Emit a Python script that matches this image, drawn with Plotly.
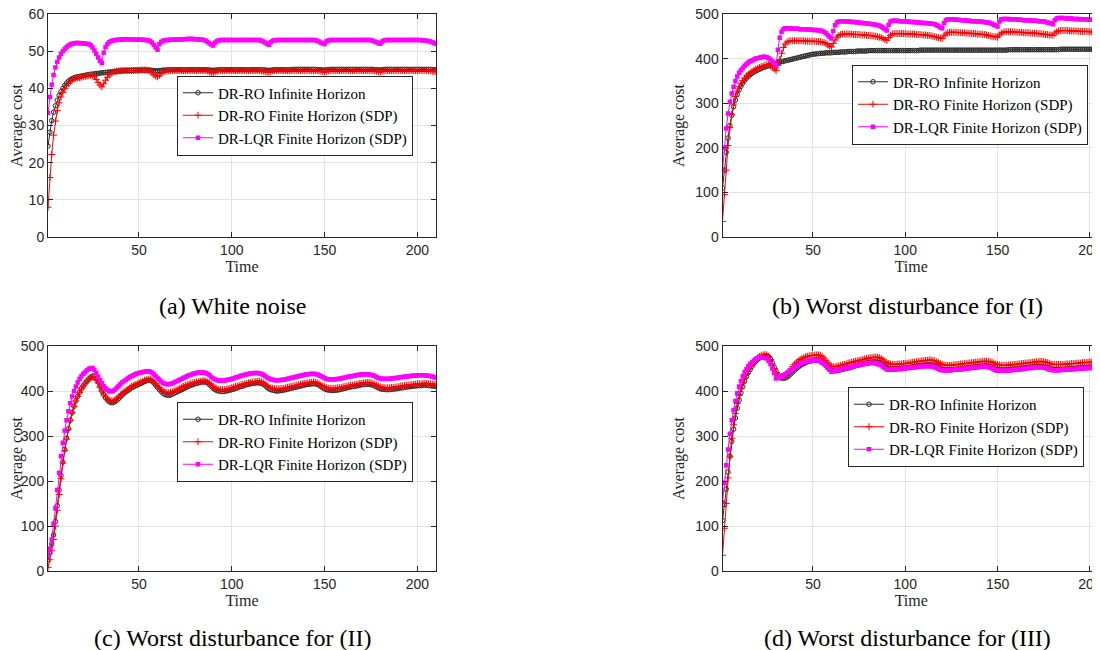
import plotly.graph_objects as go

time = list(range(1, 211))

# ---------------- (a) White noise ----------------
a_inf = [24.5, 28.2, 31.3, 33.6, 35.3, 36.8, 38.1, 39.1, 40.0, 40.8,
         41.4, 41.9, 42.3, 42.6, 42.8, 43.0, 43.1, 43.2, 43.3, 43.4,
         43.5, 43.6, 43.7, 43.8, 43.8, 43.9, 44.0, 44.0, 44.1, 44.2,
         44.2, 44.3, 44.3, 44.4, 44.4, 44.5, 44.5, 44.6, 44.6, 44.7,
         44.7, 44.7, 44.8, 44.8, 44.8, 44.8, 44.9, 44.9, 44.9, 44.9,
         44.9, 44.9, 44.9, 44.9, 44.9, 44.9, 44.8, 44.8, 44.7, 44.7,
         44.8, 44.8, 44.9, 44.9, 44.9, 45.0, 45.0, 45.0, 45.0, 45.0,
         45.0, 45.0, 45.0, 45.0, 45.0, 45.0, 45.0, 45.0, 45.0, 45.0,
         45.0, 45.0, 45.0, 45.0, 45.0, 45.0, 45.0, 44.9, 44.9, 44.8,
         44.9, 44.9, 45.0, 45.0, 45.0, 45.0, 45.0, 45.0, 45.0, 45.0,
         45.0, 45.0, 45.0, 45.0, 45.0, 45.0, 45.0, 45.0, 45.0, 45.0,
         45.0, 45.0, 45.0, 45.0, 45.0, 45.0, 45.0, 44.9, 44.9, 44.8,
         44.9, 44.9, 45.0, 45.0, 45.0, 45.0, 45.0, 45.0, 45.0, 45.0,
         45.0, 45.0, 45.1, 45.1, 45.1, 45.1, 45.1, 45.1, 45.1, 45.1,
         45.1, 45.1, 45.1, 45.1, 45.1, 45.0, 45.0, 45.0, 44.9, 44.9,
         45.0, 45.0, 45.1, 45.1, 45.1, 45.1, 45.1, 45.1, 45.1, 45.1,
         45.1, 45.1, 45.1, 45.1, 45.1, 45.1, 45.1, 45.1, 45.1, 45.1,
         45.1, 45.1, 45.1, 45.1, 45.1, 45.1, 45.0, 45.0, 45.0, 44.9,
         45.0, 45.1, 45.1, 45.1, 45.1, 45.1, 45.1, 45.1, 45.1, 45.1,
         45.1, 45.1, 45.1, 45.1, 45.1, 45.1, 45.1, 45.1, 45.1, 45.1,
         45.1, 45.1, 45.1, 45.1, 45.1, 45.1, 45.1, 45.0, 45.0, 45.0]
a_fin = [8.0, 16.0, 22.2, 27.4, 31.2, 34.0, 36.1, 37.7, 38.9, 39.9,
         40.7, 41.3, 41.8, 42.2, 42.5, 42.7, 42.8, 42.9, 43.0, 43.1,
         43.2, 43.3, 43.4, 43.5, 43.5, 43.1, 42.4, 41.6, 40.9, 40.4,
         41.2, 42.2, 43.0, 43.6, 44.0, 44.3, 44.5, 44.6, 44.7, 44.7,
         44.8, 44.8, 44.8, 44.8, 44.8, 44.8, 44.8, 44.8, 44.8, 44.8,
         44.9, 44.9, 44.9, 44.9, 44.8, 44.6, 44.2, 43.7, 43.3, 43.1,
         43.5, 44.0, 44.4, 44.6, 44.7, 44.7, 44.8, 44.8, 44.8, 44.8,
         44.8, 44.8, 44.8, 44.8, 44.8, 44.8, 44.8, 44.8, 44.8, 44.8,
         44.8, 44.8, 44.8, 44.8, 44.8, 44.8, 44.7, 44.5, 44.3, 44.1,
         44.4, 44.6, 44.7, 44.8, 44.8, 44.8, 44.8, 44.8, 44.8, 44.8,
         44.8, 44.8, 44.8, 44.8, 44.8, 44.8, 44.8, 44.8, 44.8, 44.8,
         44.8, 44.8, 44.8, 44.8, 44.8, 44.7, 44.6, 44.5, 44.4, 44.3,
         44.5, 44.7, 44.8, 44.8, 44.8, 44.8, 44.8, 44.8, 44.8, 44.8,
         44.8, 44.8, 44.8, 44.8, 44.8, 44.8, 44.8, 44.8, 44.8, 44.8,
         44.8, 44.8, 44.8, 44.8, 44.8, 44.8, 44.7, 44.6, 44.5, 44.4,
         44.6, 44.7, 44.8, 44.8, 44.8, 44.8, 44.8, 44.8, 44.8, 44.8,
         44.8, 44.8, 44.8, 44.8, 44.8, 44.8, 44.8, 44.8, 44.8, 44.8,
         44.8, 44.8, 44.8, 44.8, 44.8, 44.8, 44.7, 44.6, 44.5, 44.4,
         44.6, 44.7, 44.8, 44.8, 44.8, 44.8, 44.8, 44.8, 44.8, 44.8,
         44.8, 44.8, 44.8, 44.8, 44.8, 44.8, 44.8, 44.8, 44.8, 44.8,
         44.8, 44.8, 44.8, 44.8, 44.8, 44.8, 44.7, 44.6, 44.5, 44.5]
a_lqr = [33.4, 37.7, 41.0, 43.6, 45.6, 47.1, 48.3, 49.3, 50.0, 50.6,
         51.1, 51.5, 51.8, 52.0, 52.1, 52.2, 52.2, 52.2, 52.1, 52.1,
         52.0, 52.0, 51.9, 51.6, 51.0, 50.2, 49.3, 48.3, 47.4, 46.8,
         49.6, 51.1, 51.9, 52.4, 52.7, 52.9, 53.0, 53.0, 53.1, 53.1,
         53.1, 53.2, 53.2, 53.2, 53.2, 53.2, 53.1, 53.1, 53.1, 53.1,
         53.1, 53.1, 53.0, 53.0, 52.9, 52.7, 52.3, 51.7, 51.0, 50.4,
         51.9, 52.5, 52.8, 52.9, 53.0, 53.0, 53.1, 53.1, 53.1, 53.1,
         53.1, 53.2, 53.2, 53.2, 53.2, 53.3, 53.3, 53.3, 53.3, 53.2,
         53.2, 53.2, 53.1, 53.1, 53.0, 52.8, 52.5, 52.1, 51.8, 51.5,
         52.3, 52.7, 52.9, 53.0, 53.0, 53.0, 53.0, 53.0, 53.0, 53.0,
         53.0, 53.0, 53.0, 53.0, 53.0, 53.0, 53.0, 53.0, 53.0, 53.0,
         53.0, 53.0, 53.0, 53.0, 53.0, 52.8, 52.6, 52.3, 52.0, 51.7,
         52.4, 52.8, 52.9, 53.0, 53.0, 53.0, 53.0, 53.0, 53.0, 53.0,
         53.0, 53.0, 53.0, 53.0, 53.0, 53.0, 53.0, 53.0, 53.0, 53.0,
         53.0, 53.0, 53.0, 53.0, 53.0, 52.8, 52.6, 52.3, 52.1, 51.9,
         52.6, 52.9, 53.0, 53.0, 53.0, 53.0, 53.0, 53.0, 53.0, 53.0,
         53.0, 53.0, 53.0, 53.0, 53.0, 53.0, 53.0, 53.0, 53.0, 53.0,
         53.0, 53.0, 53.0, 53.0, 53.0, 52.8, 52.6, 52.4, 52.2, 52.0,
         52.6, 52.9, 53.0, 53.0, 53.0, 53.0, 53.0, 53.0, 53.0, 53.0,
         53.0, 53.0, 53.0, 53.0, 53.0, 53.0, 53.0, 53.0, 53.0, 53.0,
         53.0, 53.0, 52.9, 52.9, 52.8, 52.7, 52.6, 52.4, 52.2, 52.0]

# ---------------- (b) Worst disturbance for (I) ----------------
b_inf = [110, 150, 190, 222, 250, 273, 292, 307, 320, 330,
         338, 345, 351, 356, 360, 364, 367, 370, 372, 374,
         376, 378, 380, 381, 383, 384, 386, 387, 388, 390,
         391, 392, 393, 394, 395, 396, 397, 398, 399, 400,
         401, 402, 403, 404, 405, 406, 407, 408, 409, 410,
         410, 411, 411, 412, 412, 412, 413, 413, 413, 413,
         414, 414, 414, 414, 415, 415, 415, 415, 416, 416,
         416, 416, 416, 417, 417, 417, 417, 417, 417, 418,
         418, 418, 418, 418, 418, 418, 418, 418, 418, 418,
         418, 418, 418, 418, 418, 418, 418, 418, 418, 418,
         418, 418, 418, 418, 418, 418, 418, 419, 419, 419,
         419, 419, 419, 419, 419, 419, 419, 419, 419, 419,
         419, 419, 419, 419, 419, 419, 419, 419, 419, 419,
         419, 419, 419, 419, 419, 419, 419, 419, 419, 419,
         419, 419, 419, 419, 419, 419, 419, 419, 419, 419,
         419, 419, 419, 419, 419, 420, 420, 420, 420, 420,
         420, 420, 420, 420, 420, 420, 420, 420, 420, 420,
         420, 420, 420, 420, 420, 420, 420, 420, 420, 420,
         420, 420, 420, 421, 421, 421, 421, 421, 421, 421,
         421, 421, 421, 421, 421, 421, 421, 421, 421, 421,
         421, 421, 421, 421, 421, 421, 421, 421, 421, 421]
b_fin = [35, 95, 150, 205, 245, 275, 298, 315, 327, 337,
         345, 351, 356, 361, 365, 368, 371, 374, 376, 378,
         380, 382, 383, 385, 386, 386, 384, 381, 377, 373,
         385, 398, 412, 425, 433, 437, 439, 440, 440, 440,
         440, 440, 440, 440, 440, 439, 439, 439, 439, 439,
         439, 438, 438, 438, 437, 436, 434, 431, 428, 426,
         434, 442, 448, 452, 454, 455, 455, 455, 455, 455,
         455, 454, 454, 454, 454, 453, 453, 453, 452, 452,
         452, 451, 451, 450, 449, 448, 447, 445, 443, 441,
         447, 452, 455, 456, 456, 456, 456, 456, 456, 456,
         455, 455, 455, 455, 455, 454, 454, 454, 453, 453,
         453, 452, 452, 451, 450, 449, 448, 447, 446, 445,
         451, 455, 458, 459, 459, 459, 459, 459, 458, 458,
         458, 458, 457, 457, 457, 456, 456, 456, 455, 455,
         455, 454, 454, 453, 452, 451, 450, 449, 449, 448,
         453, 457, 459, 460, 460, 460, 460, 460, 460, 459,
         459, 459, 459, 458, 458, 458, 458, 457, 457, 457,
         457, 456, 456, 455, 455, 454, 454, 453, 453, 452,
         457, 460, 462, 463, 463, 463, 463, 463, 462, 462,
         462, 462, 462, 461, 461, 461, 461, 461, 461, 460,
         460, 460, 460, 460, 460, 460, 459, 459, 459, 459]
b_lqr = [150, 200, 243, 277, 303, 322, 337, 350, 360, 368,
         374, 379, 384, 388, 391, 394, 396, 398, 400, 401,
         402, 403, 404, 404, 403, 401, 398, 394, 389, 385,
         420, 447, 460, 466, 468, 468, 468, 468, 467, 467,
         467, 467, 466, 466, 466, 466, 465, 465, 465, 464,
         464, 464, 463, 463, 462, 460, 457, 453, 449, 445,
         462, 475, 481, 483, 484, 484, 484, 483, 483, 483,
         482, 482, 482, 481, 481, 480, 480, 479, 479, 478,
         478, 477, 477, 476, 475, 474, 472, 469, 466, 463,
         476, 483, 485, 485, 485, 485, 484, 484, 484, 483,
         483, 483, 482, 482, 482, 481, 481, 481, 480, 480,
         480, 479, 479, 478, 478, 477, 475, 473, 470, 468,
         480, 486, 488, 488, 488, 488, 487, 487, 487, 486,
         486, 486, 485, 485, 485, 484, 484, 484, 483, 483,
         483, 482, 482, 481, 481, 480, 478, 476, 474, 472,
         483, 488, 489, 489, 489, 489, 488, 488, 488, 488,
         487, 487, 487, 486, 486, 486, 486, 485, 485, 485,
         485, 484, 484, 484, 484, 482, 481, 480, 479, 477,
         486, 490, 491, 491, 491, 491, 490, 490, 490, 490,
         489, 489, 489, 489, 488, 488, 488, 488, 487, 487,
         487, 487, 487, 486, 486, 486, 486, 486, 486, 486]

# ---------------- (c) Worst disturbance for (II) ----------------
c_inf = [25, 40, 60, 80, 110, 145, 180, 212, 242, 270,
         295, 316, 335, 352, 366, 378, 388, 397, 405, 411,
         417, 422, 427, 431, 433, 433, 428, 420, 410, 400,
         392, 385, 380, 376, 374, 374, 376, 379, 383, 387,
         391, 395, 398, 401, 404, 407, 409, 411, 413, 415,
         417, 419, 421, 423, 424, 424, 422, 418, 413, 408,
         403, 399, 395, 392, 391, 390, 391, 393, 395, 397,
         399, 401, 403, 405, 407, 409, 411, 413, 414, 416,
         417, 418, 419, 420, 420, 420, 418, 414, 410, 406,
         403, 401, 400, 399, 399, 399, 400, 401, 402, 403,
         404, 406, 407, 409, 410, 411, 413, 414, 415, 416,
         417, 417, 418, 418, 418, 417, 415, 412, 408, 405,
         403, 402, 401, 400, 400, 401, 401, 402, 403, 404,
         405, 406, 407, 408, 409, 410, 411, 412, 413, 414,
         415, 415, 416, 416, 416, 415, 413, 410, 407, 405,
         403, 402, 402, 401, 401, 402, 402, 403, 404, 405,
         406, 407, 408, 409, 410, 410, 411, 412, 413, 414,
         414, 415, 415, 415, 414, 413, 411, 409, 407, 405,
         404, 404, 403, 403, 403, 404, 404, 405, 405, 406,
         407, 407, 408, 409, 409, 410, 410, 411, 411, 412,
         412, 412, 413, 413, 413, 412, 412, 411, 411, 410]
c_fin = [8, 25, 45, 70, 100, 135, 170, 205, 240, 268,
         293, 315, 335, 352, 366, 378, 388, 397, 405, 411,
         417, 422, 426, 429, 431, 430, 425, 418, 409, 400,
         393, 387, 382, 379, 378, 378, 380, 383, 387, 391,
         395, 398, 401, 404, 407, 410, 412, 414, 416, 418,
         420, 422, 424, 425, 426, 426, 424, 420, 416, 411,
         407, 403, 400, 398, 397, 396, 397, 398, 400, 402,
         404, 406, 408, 410, 412, 414, 415, 417, 418, 419,
         420, 421, 422, 422, 423, 422, 420, 417, 413, 410,
         407, 405, 404, 403, 403, 403, 404, 405, 406, 407,
         408, 410, 411, 412, 414, 415, 416, 417, 418, 419,
         420, 420, 421, 421, 421, 420, 418, 415, 412, 409,
         407, 406, 405, 405, 405, 405, 406, 406, 407, 408,
         409, 410, 411, 412, 413, 414, 415, 416, 417, 418,
         418, 419, 419, 420, 419, 418, 416, 413, 411, 409,
         407, 406, 406, 406, 406, 406, 407, 407, 408, 409,
         410, 411, 412, 413, 413, 414, 415, 416, 417, 417,
         418, 418, 419, 419, 418, 417, 415, 413, 411, 409,
         408, 408, 407, 407, 407, 408, 408, 409, 409, 410,
         411, 411, 412, 413, 413, 414, 414, 415, 415, 416,
         416, 416, 417, 417, 417, 416, 416, 415, 415, 414]
c_lqr = [33, 50, 70, 105, 140, 180, 218, 255, 285, 312,
         335, 355, 373, 388, 400, 410, 419, 427, 433, 438,
         442, 446, 449, 451, 451, 447, 440, 432, 424, 417,
         411, 406, 402, 400, 399, 400, 403, 407, 411, 415,
         419, 422, 425, 428, 431, 433, 435, 437, 439, 440,
         441, 442, 443, 444, 444, 443, 441, 437, 433, 429,
         425, 421, 418, 416, 415, 415, 416, 417, 419, 421,
         423, 425, 427, 429, 431, 433, 435, 436, 438, 439,
         440, 441, 441, 441, 441, 440, 438, 435, 431, 428,
         426, 424, 423, 423, 423, 423, 424, 425, 426, 427,
         428, 430, 431, 432, 434, 435, 436, 437, 438, 439,
         439, 440, 440, 440, 439, 438, 436, 433, 430, 428,
         426, 425, 424, 424, 424, 424, 425, 425, 426, 427,
         428, 429, 430, 431, 432, 433, 434, 435, 436, 437,
         437, 438, 438, 438, 438, 437, 435, 433, 431, 429,
         427, 426, 426, 426, 426, 426, 427, 427, 428, 429,
         430, 431, 432, 433, 433, 434, 435, 436, 436, 437,
         437, 437, 437, 437, 436, 435, 433, 431, 429, 428,
         427, 427, 427, 427, 427, 428, 428, 429, 429, 430,
         431, 431, 432, 432, 433, 433, 434, 434, 434, 435,
         435, 435, 435, 435, 434, 434, 433, 432, 431, 430]

# ---------------- (d) Worst disturbance for (III) ----------------
d_inf = [112, 148, 182, 220, 255, 288, 315, 340, 362, 380,
         396, 410, 422, 432, 441, 448, 455, 461, 466, 470,
         473, 475, 477, 478, 478, 476, 471, 463, 453, 444,
         437, 432, 429, 428, 429, 431, 434, 438, 442, 446,
         450, 453, 456, 459, 461, 463, 465, 466, 467, 468,
         469, 469, 469, 468, 466, 462, 457, 452, 448, 446,
         445, 445, 445, 446, 447, 448, 449, 450, 451, 452,
         453, 455, 456, 457, 458, 459, 460, 461, 462, 463,
         464, 464, 465, 465, 464, 463, 461, 458, 455, 452,
         450, 449, 449, 449, 449, 450, 450, 450, 451, 451,
         452, 452, 453, 454, 454, 455, 456, 456, 457, 457,
         458, 458, 458, 458, 457, 456, 454, 452, 450, 448,
         447, 447, 447, 447, 447, 448, 448, 448, 449, 449,
         450, 450, 451, 452, 452, 453, 453, 454, 454, 455,
         455, 455, 456, 456, 455, 454, 453, 451, 449, 448,
         447, 447, 447, 447, 447, 447, 448, 448, 449, 449,
         450, 450, 451, 451, 452, 452, 453, 453, 454, 454,
         455, 455, 455, 455, 454, 453, 452, 451, 449, 448,
         448, 448, 448, 448, 448, 448, 449, 449, 449, 450,
         450, 450, 451, 451, 451, 452, 452, 452, 453, 453,
         453, 453, 453, 453, 453, 452, 452, 452, 452, 452]
d_fin = [35, 95, 150, 207, 255, 295, 325, 350, 372, 390,
         405, 418, 429, 439, 447, 454, 460, 465, 470, 474,
         477, 479, 480, 481, 480, 477, 470, 460, 450, 440,
         434, 431, 431, 432, 435, 439, 444, 449, 454, 459,
         463, 467, 470, 472, 474, 476, 477, 478, 479, 479,
         480, 480, 480, 479, 477, 473, 468, 463, 458, 455,
         454, 454, 455, 456, 457, 458, 459, 460, 462, 463,
         464, 465, 466, 467, 468, 469, 470, 471, 472, 473,
         474, 474, 475, 475, 475, 474, 472, 469, 466, 463,
         461, 460, 459, 459, 459, 460, 460, 460, 461, 461,
         462, 462, 463, 464, 464, 465, 466, 466, 467, 467,
         468, 468, 469, 469, 468, 467, 465, 463, 461, 459,
         458, 457, 457, 457, 457, 458, 458, 459, 459, 460,
         460, 461, 461, 462, 462, 463, 463, 464, 464, 465,
         465, 466, 466, 466, 466, 465, 464, 462, 460, 459,
         458, 457, 457, 457, 457, 458, 458, 458, 459, 459,
         460, 460, 461, 461, 462, 462, 463, 463, 464, 464,
         465, 465, 466, 466, 465, 464, 463, 462, 460, 459,
         459, 459, 459, 459, 459, 459, 460, 460, 460, 461,
         461, 461, 462, 462, 462, 463, 463, 463, 464, 464,
         464, 464, 464, 465, 465, 465, 465, 465, 465, 465]
d_lqr = [153, 196, 235, 270, 305, 335, 358, 378, 395, 410,
         422, 433, 442, 449, 455, 460, 464, 468, 471, 473,
         474, 475, 475, 474, 472, 467, 460, 450, 440, 428,
         430, 432, 433, 435, 437, 440, 443, 446, 449, 452,
         455, 458, 460, 462, 464, 465, 466, 467, 468, 468,
         468, 468, 467, 466, 463, 460, 456, 452, 447, 443,
         444, 445, 446, 447, 448, 449, 450, 451, 452, 453,
         454, 455, 456, 457, 458, 459, 460, 460, 461, 461,
         462, 462, 462, 461, 460, 459, 457, 454, 451, 448,
         448, 448, 448, 448, 448, 449, 449, 449, 450, 450,
         451, 451, 452, 452, 453, 453, 454, 454, 455, 455,
         455, 455, 455, 455, 454, 453, 451, 449, 447, 446,
         446, 446, 446, 446, 446, 447, 447, 447, 448, 448,
         449, 449, 450, 450, 451, 451, 452, 452, 453, 453,
         454, 454, 454, 454, 453, 452, 450, 448, 446, 445,
         445, 445, 445, 445, 445, 446, 446, 446, 447, 447,
         448, 448, 449, 449, 450, 450, 451, 451, 452, 452,
         453, 453, 453, 453, 452, 451, 450, 448, 447, 446,
         446, 446, 446, 446, 447, 447, 447, 448, 448, 448,
         449, 449, 449, 450, 450, 450, 450, 451, 451, 451,
         451, 451, 451, 451, 451, 451, 451, 451, 451, 451]

series_names = ["DR-RO Infinite Horizon", "DR-RO Finite Horizon (SDP)", "DR-LQR Finite Horizon (SDP)"]
captions = ["(a) White noise", "(b) Worst disturbance for (I)",
            "(c) Worst disturbance for (II)", "(d) Worst disturbance for (III)"]
panels = [(a_inf, a_fin, a_lqr), (b_inf, b_fin, b_lqr), (c_inf, c_fin, c_lqr), (d_inf, d_fin, d_lqr)]
y_ranges = [[0, 60], [0, 500], [0, 500], [0, 500]]
y_dtick = [10, 100, 100, 100]

# the page body has an 8px margin, so the figure is drawn 8px in from the top-left
OFF = 8
W, H = 1100 - OFF, 650 - OFF
def fx(px):
    return (px - OFF) / W
def fy(py):
    return 1 - (py - OFF) / H

# page-pixel layout of each axes box: (left, right, top, bottom)
boxes = [(48, 436, 14, 237), (722.5, 1100, 14, 237), (48, 436, 346, 571), (722.5, 1100, 346, 571)]
legend_center = [115.5, 104.5, 442, 427]
legend_left = [177, 852, 177, 848]
caption_pos = [(233, 306), (907, 306), (233, 638), (907, 638)]

styles = [
    dict(color="#2b2b2b", symbol="circle-open", size=4.5),
    dict(color="#ff0000", symbol="cross-thin", size=5),
    dict(color="#ff00ff", symbol="square", size=4.5),
]

fig = go.Figure()
axis_font = dict(family="Liberation Sans, Arial, sans-serif", size=14, color="#262626")
serif = "Liberation Serif, Times New Roman, serif"

for i, (series, box) in enumerate(zip(panels, boxes)):
    n = i + 1
    xa = "x" if n == 1 else f"x{n}"
    ya = "y" if n == 1 else f"y{n}"
    lg = "legend" if n == 1 else f"legend{n}"
    for s, name, st in zip(series, series_names, styles):
        mk = dict(symbol=st["symbol"], size=st["size"], color=st["color"])
        if st["symbol"] in ("cross-thin", "circle-open"):
            mk["line"] = dict(color=st["color"], width=1)
        fig.add_trace(go.Scatter(
            x=time, y=s, name=name, mode="lines+markers", xaxis=xa, yaxis=ya,
            legend=lg, line=dict(color=st["color"], width=1), marker=mk,
        ))
    l, r, t, b = box
    right_cut = r >= 1100
    if right_cut:
        # the plot continues past the page edge: x visible up to pixel 1100
        ppu = 92.3 / 50
        xmax = 1 + (1100 - l) / ppu
    else:
        xmax = 210
    xkey = "xaxis" if n == 1 else f"xaxis{n}"
    ykey = "yaxis" if n == 1 else f"yaxis{n}"
    fig.layout[xkey] = dict(
        domain=[fx(l), min(1.0, fx(r))], anchor=ya, range=[1, xmax], automargin=False,
        tickvals=[50, 100, 150, 200], ticks="inside", ticklen=5, tickcolor="#262626",
        ticklabeloverflow="allow",
        showline=True, linecolor="#262626", linewidth=1, mirror="ticks",
        showgrid=True, gridcolor="#e3e3e3", gridwidth=1, zeroline=False,
        tickfont=axis_font,
        title=dict(text="Time", font=dict(family=serif, size=16, color="#262626"), standoff=0),
    )
    fig.layout[ykey] = dict(
        domain=[fy(b), fy(t)], anchor=xa, range=y_ranges[i], dtick=y_dtick[i], automargin=False,
        ticks="inside", ticklen=5, tickcolor="#262626", ticklabeloverflow="allow",
        showline=True, linecolor="#262626", linewidth=1,
        mirror=False if right_cut else "ticks",
        showgrid=True, gridcolor="#e3e3e3", gridwidth=1, zeroline=False,
        tickfont=axis_font,
        title=dict(text="Average cost", font=dict(family=serif, size=16, color="#262626"), standoff=6),
    )
    fig.layout[lg] = dict(
        x=fx(legend_left[i]), y=fy(legend_center[i]), xanchor="left", yanchor="middle",
        bgcolor="white", bordercolor="#262626", borderwidth=1,
        font=dict(family=serif, size=15, color="#000000"),
        itemwidth=30, tracegroupgap=0, itemsizing="trace",
    )
    cx, cy = caption_pos[i]
    fig.add_annotation(
        text=captions[i], x=fx(cx), y=fy(cy), xref="paper", yref="paper",
        showarrow=False, xanchor="center", yanchor="middle",
        font=dict(family=serif, size=24, color="#000000"),
    )

fig.update_layout(
    width=W, height=H, margin=dict(l=0, r=0, t=0, b=0, autoexpand=False),
    paper_bgcolor="white", plot_bgcolor="white", showlegend=True,
)

fig.write_html("out.html")
